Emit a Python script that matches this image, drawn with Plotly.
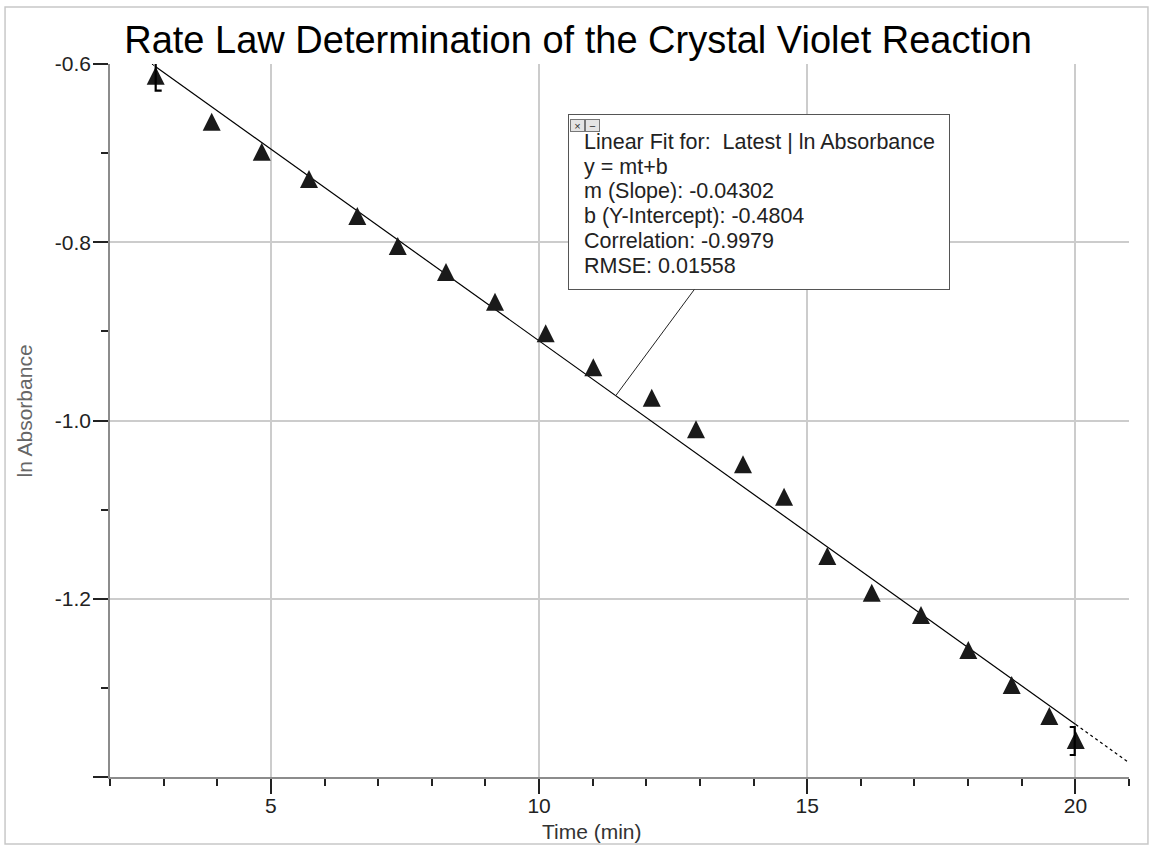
import plotly.graph_objects as go

# ---- data ----
time_min = [2.852, 3.896, 4.829, 5.711, 6.611, 7.365, 8.265, 9.179, 10.124, 11.012,
            12.101, 12.927, 13.803, 14.568, 15.375, 16.203, 17.122, 18.004, 18.813,
            19.514, 20.007]
ln_abs = [-0.6131, -0.6647, -0.6984, -0.7290, -0.7705, -0.8042, -0.8334, -0.8667,
          -0.9021, -0.9403, -0.9744, -1.0099, -1.0491, -1.0855, -1.1520, -1.1932,
          -1.2182, -1.2575, -1.2968, -1.3316, -1.3585]

FIT_SLOPE = -0.04302
FIT_INTERCEPT = -0.4804

x_tickvals = [5, 10, 15, 20]
x_ticktext = ["5", "10", "15", "20"]
y_tickvals = [-1.4, -1.2, -1.0, -0.8, -0.6]
y_ticktext = ["", "-1.2", "-1.0", "-0.8", "-0.6"]

X_RANGE = [2, 21]
Y_RANGE = [-1.4, -0.6]

title_text = "Rate Law Determination of the Crystal Violet Reaction"
x_title = "Time (min)"
y_title = "ln Absorbance"
fit_lines = [
    "Linear Fit for:  Latest | ln Absorbance",
    "y = mt+b",
    "m (Slope): -0.04302",
    "b (Y-Intercept): -0.4804",
    "Correlation: -0.9979",
    "RMSE: 0.01558",
]
LEADER_T = 11.43

FONT = "Liberation Sans, Arial, sans-serif"


def fit(t):
    return FIT_SLOPE * t + FIT_INTERCEPT


fig = go.Figure()

# fitted line: solid across the data range, dotted beyond
t_top = (Y_RANGE[1] - FIT_INTERCEPT) / FIT_SLOPE
fig.add_trace(go.Scatter(x=[t_top, time_min[0]], y=[fit(t_top), fit(time_min[0])],
                         mode="lines", line=dict(color="black", width=1, dash="dot"),
                         hoverinfo="skip", showlegend=False))
fig.add_trace(go.Scatter(x=[time_min[0], time_min[-1]], y=[fit(time_min[0]), fit(time_min[-1])],
                         mode="lines", line=dict(color="black", width=1.2),
                         hoverinfo="skip", showlegend=False))
fig.add_trace(go.Scatter(x=[time_min[-1], X_RANGE[1]], y=[fit(time_min[-1]), fit(X_RANGE[1])],
                         mode="lines", line=dict(color="black", width=1.2, dash="dot"),
                         hoverinfo="skip", showlegend=False))

# data points (triangles)
fig.add_trace(go.Scatter(x=time_min, y=ln_abs, mode="markers",
                         marker=dict(symbol="arrow-down", angle=180, standoff=9, size=18,
                                     color="#1a1a1a", line=dict(width=0)),
                         showlegend=False, cliponaxis=False))

shapes = []
# overall frame
shapes.append(dict(type="rect", xref="paper", yref="paper",
                   x0=-0.1030, x1=1.0186, y0=-0.094, y1=1.080,
                   line=dict(color="#c8c8c8", width=1.5), layer="below"))
# range brackets at the first and last points
shapes.append(dict(type="path", xref="x", yref="y", xsizemode="pixel", ysizemode="pixel",
                   xanchor=time_min[0], yanchor=ln_abs[0],
                   path="M 6,13 L 0,13 L 0,-15 L 6,-15",
                   line=dict(color="black", width=2.2), layer="above"))
shapes.append(dict(type="path", xref="x", yref="y", xsizemode="pixel", ysizemode="pixel",
                   xanchor=time_min[-1], yanchor=ln_abs[-1],
                   path="M -6,13 L -1,13 L -1,-15 L -6,-15",
                   line=dict(color="black", width=2.2), layer="above"))

annotations = []
# fit info box with leader line to the fit
annotations.append(dict(x=LEADER_T, y=fit(LEADER_T), xref="x", yref="y",
                        text=" ", showarrow=True, arrowhead=0, arrowwidth=1,
                        arrowcolor="#222", ax=143.3, ay=-193.6,
                        width=380, height=174, borderpad=0, borderwidth=1,
                        bordercolor="#555", bgcolor="white"))
for i, line in enumerate(fit_lines):
    annotations.append(dict(x=0.4632, y=(777 - (142 + i * 24.7)) / 713,
                            xref="paper", yref="paper", text=line, showarrow=False,
                            xanchor="left", yanchor="middle",
                            font=dict(family=FONT, size=21.5, color="#222")))
# small close / minimize buttons
for sym, xc in [("×", 0.4583), ("−", 0.4735)]:
    annotations.append(dict(x=xc, y=(777 - 119.5) / 713, xref="paper", yref="paper",
                            text=sym, showarrow=False, width=13, height=11,
                            borderpad=0, borderwidth=1, bordercolor="#777",
                            bgcolor="#e4e4e4", font=dict(family=FONT, size=11, color="#333")))
# axis titles
annotations.append(dict(x=0.473, y=-0.0771, xref="paper", yref="paper", text=x_title,
                        showarrow=False, xanchor="center", yanchor="middle",
                        font=dict(family=FONT, size=21, color="#333")))
annotations.append(dict(x=-0.0834, y=0.5126, xref="paper", yref="paper", text=y_title,
                        showarrow=False, xanchor="center", yanchor="middle", textangle=-90,
                        font=dict(family=FONT, size=21, color="#666")))

fig.update_layout(
    width=1151, height=845,
    margin=dict(l=110, r=22, t=64, b=68),
    paper_bgcolor="white", plot_bgcolor="white",
    font=dict(family=FONT, color="#222"),
    title=dict(text=title_text, x=578 / 1151, xref="container", xanchor="center",
               y=1 - 40 / 845, yref="container", yanchor="middle",
               font=dict(family=FONT, size=38, color="black")),
    shapes=shapes, annotations=annotations,
    xaxis=dict(range=X_RANGE, showline=True, linecolor="#8c8c8c", linewidth=1.5,
               ticks="outside", ticklen=15, tickwidth=1.5, tickcolor="#222",
               tickmode="array", tickvals=x_tickvals, ticktext=x_ticktext,
               tickfont=dict(family=FONT, size=21, color="#222"),
               ticklabelstandoff=-6,
               showgrid=True, gridcolor="#cccccc", gridwidth=1.5, zeroline=False,
               minor=dict(dtick=1, tick0=0, ticklen=7, tickwidth=1.5, tickcolor="#222",
                          ticks="outside", showgrid=False)),
    yaxis=dict(range=Y_RANGE, showline=True, linecolor="#8c8c8c", linewidth=1.5,
               ticks="outside", ticklen=15, tickwidth=1.5, tickcolor="#222",
               tickmode="array", tickvals=y_tickvals, ticktext=y_ticktext,
               tickfont=dict(family=FONT, size=21, color="#222"),
               ticklabelstandoff=-2,
               showgrid=True, gridcolor="#cccccc", gridwidth=1.5, zeroline=False,
               minor=dict(dtick=0.1, tick0=0, ticklen=7, tickwidth=1.5, tickcolor="#222",
                          ticks="outside", showgrid=False)),
)

fig.write_html("out.html", config={"displayModeBar": False},
               post_script="document.body.style.margin='0';document.body.style.overflow='hidden';")
